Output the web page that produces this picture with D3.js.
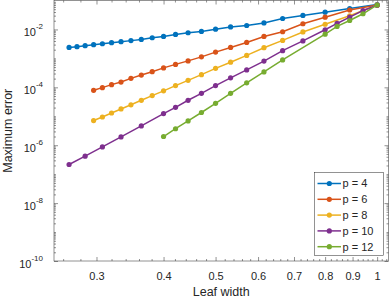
<!DOCTYPE html>
<html>
<head>
<meta charset="utf-8">
<script src="https://cdn.jsdelivr.net/npm/d3@7"></script>
<style>
  body { margin: 0; background: #fff; }
  text { font-family: "Liberation Sans", Arial, sans-serif; fill: #262626; }
</style>
</head>
<body>
<div id="chart"></div>
<script>
// leaf widths (x) shared by all series, null where a series has no point
const leafWidth = [0.2667, 0.2759, 0.2857, 0.2963, 0.3077, 0.32, 0.3333, 0.3478, 0.3636, 0.381,
    0.4, 0.4211, 0.4444, 0.4706, 0.5, 0.5333, 0.5714, 0.6154, 0.6667, 0.7273,
    0.8, 0.8421, 0.8889, 0.9412, 1];

const errP4 = [2.39e-3, 2.53e-3, 2.74e-3, 2.97e-3, 3.21e-3, 3.48e-3, 3.77e-3, 4.11e-3, 4.52e-3, 5.17e-3,
    5.74e-3, 6.73e-3, 7.69e-3, 8.53e-3, 1.02e-2, 1.22e-2, 1.37e-2, 1.68e-2, 2.39e-2, 3.04e-2,
    3.95e-2, null, 5.30e-2, null, 7.28e-2];
const errP6 = [null, null, null, 7.88e-5, 9.77e-5, 1.24e-4, 1.52e-4, 2.04e-4, 2.65e-4, 3.47e-4,
    4.70e-4, 6.21e-4, 8.20e-4, 1.13e-3, 1.65e-3, 2.39e-3, 3.56e-3, 5.74e-3, 8.33e-3, 1.57e-2,
    2.65e-2, null, 4.70e-2, null, 7.0e-2];
const errP8 = [null, null, null, 7.11e-6, 9.46e-6, 1.30e-5, 1.79e-5, 2.49e-5, 3.57e-5, 5.18e-5,
    7.57e-5, 1.15e-4, 1.74e-4, 2.74e-4, 4.52e-4, 7.39e-4, 1.27e-3, 2.34e-3, 4.18e-3, 8.2e-3,
    1.51e-2, null, 2.96e-2, null, 6.89e-2];
const errP10 = [2.16e-7, null, 4.18e-7, null, 8.74e-7, null, 1.93e-6, null, 4.63e-6, null,
    1.24e-5, 2.04e-5, 3.57e-5, 6.21e-5, 1.15e-4, 2.13e-4, 4.01e-4, 8.07e-4, 1.85e-3, 4.01e-3,
    9.77e-3, 1.61e-2, 2.65e-2, 4.52e-2, 6.89e-2];
const errP12 = [null, null, null, null, null, null, null, null, null, null,
    2.0e-6, 3.71e-6, 6.89e-6, 1.35e-5, 2.81e-5, 6.21e-5, 1.43e-4, 3.42e-4, 8.87e-4, null,
    6.89e-3, 1.27e-2, 2.04e-2, 3.48e-2, 7.0e-2];

const seriesNames = ["p = 4", "p = 6", "p = 8", "p = 10", "p = 12"];
const seriesValues = [errP4, errP6, errP8, errP10, errP12];
const colors = ["#0072BD", "#D95319", "#EDB120", "#7E2F8E", "#77AC30"];

const xTicks = [0.3, 0.4, 0.5, 0.6, 0.7, 0.8, 0.9, 1];
const yTicks = [1e-10, 1e-8, 1e-6, 1e-4, 1e-2];

// 尺寸
const W = 390, H = 299;
const margin = {top: 0.5, right: 1.5, bottom: 38, left: 54};
const width = W - margin.left - margin.right;
const height = H - margin.top - margin.bottom;

const svg = d3.select("#chart").append("svg")
    .attr("width", W).attr("height", H);
const g = svg.append("g")
    .attr("transform", `translate(${margin.left},${margin.top})`);

const x = d3.scaleLog().domain([0.25, 1.05]).range([0, width]);
const y = d3.scaleLog().domain([1e-10, 1e-1]).range([height, 0]);

// minor ticks
const xMinor = d3.range(26, 105, 2).map(v => v / 100).filter(v => !xTicks.some(t => Math.abs(t - v) < 1e-9));
const yMinor = [];
for (let e = -10; e < -1; e++) {
    for (let k = 1; k <= 9; k++) {
        const v = k * Math.pow(10, e);
        if (!yTicks.some(t => Math.abs(Math.log10(t / v)) < 1e-6)) yMinor.push(v);
    }
}

function styleAxis(sel) {
    sel.select(".domain").remove();
    sel.selectAll(".tick line").attr("stroke", "#262626").attr("stroke-width", 0.5);
}

// bottom / top
g.append("g").attr("transform", `translate(0,${height})`)
    .call(d3.axisBottom(x).tickValues(xMinor).tickFormat("").tickSizeInner(-2).tickSizeOuter(0))
    .call(styleAxis);
const xAxis = g.append("g").attr("transform", `translate(0,${height})`)
    .call(d3.axisBottom(x).tickValues(xTicks).tickFormat(d3.format("")).tickSizeInner(-4).tickSizeOuter(0).tickPadding(11))
    .call(styleAxis);
xAxis.selectAll(".tick text").attr("font-size", "11px").attr("fill", "#262626");
g.append("g")
    .call(d3.axisTop(x).tickValues(xMinor).tickFormat("").tickSizeInner(-2).tickSizeOuter(0))
    .call(styleAxis);
g.append("g")
    .call(d3.axisTop(x).tickValues(xTicks).tickFormat("").tickSizeInner(-4).tickSizeOuter(0))
    .call(styleAxis);

// left / right
g.append("g")
    .call(d3.axisLeft(y).tickValues(yMinor).tickFormat("").tickSizeInner(-2).tickSizeOuter(0))
    .call(styleAxis);
const yAxis = g.append("g")
    .call(d3.axisLeft(y).tickValues(yTicks).tickSizeInner(-4).tickSizeOuter(0).tickPadding(11))
    .call(styleAxis);
yAxis.selectAll(".tick text").each(function(d) {
    const t = d3.select(this);
    t.text(null).attr("font-size", "11px").attr("dy", "0.55em").attr("fill", "#262626");
    t.append("tspan").text("10");
    t.append("tspan").attr("font-size", "8px").attr("dy", -7).text(Math.round(Math.log10(d)));
});
g.append("g").attr("transform", `translate(${width},0)`)
    .call(d3.axisRight(y).tickValues(yMinor).tickFormat("").tickSizeInner(-2).tickSizeOuter(0))
    .call(styleAxis);
g.append("g").attr("transform", `translate(${width},0)`)
    .call(d3.axisRight(y).tickValues(yTicks).tickFormat("").tickSizeInner(-4).tickSizeOuter(0))
    .call(styleAxis);

// box
g.append("rect").attr("width", width).attr("height", height)
    .attr("fill", "none").attr("stroke", "#262626").attr("stroke-width", 0.5);

// lines
const line = d3.line().x(d => x(d[0])).y(d => y(d[1]));
seriesValues.forEach((vals, i) => {
    const pts = leafWidth.map((w, j) => [w, vals[j]]).filter(d => d[1] != null);
    g.append("path").datum(pts)
        .attr("fill", "none").attr("stroke", colors[i]).attr("stroke-width", 1.5)
        .attr("d", line);
    g.selectAll(null).data(pts).enter().append("circle")
        .attr("cx", d => x(d[0])).attr("cy", d => y(d[1]))
        .attr("r", 2.6).attr("fill", colors[i]);
});

// axis labels
svg.append("text").attr("x", margin.left + width / 2).attr("y", 296)
    .attr("text-anchor", "middle").attr("font-size", "12.5px").text("Leaf width");
svg.append("text").attr("transform", `translate(11.5,${margin.top + height / 2}) rotate(-90)`)
    .attr("text-anchor", "middle").attr("font-size", "12.5px").text("Maximum error");

// legend
const legend = svg.append("g").attr("transform", "translate(314.5,172.5)");
legend.append("rect").attr("width", 69).attr("height", 83)
    .attr("fill", "#fff").attr("stroke", "#262626").attr("stroke-width", 0.5);
seriesNames.forEach((name, i) => {
    const ly = 11 + i * 15.8;
    legend.append("line").attr("x1", 3).attr("x2", 26.5).attr("y1", ly).attr("y2", ly)
        .attr("stroke", colors[i]).attr("stroke-width", 1.5);
    legend.append("circle").attr("cx", 14.8).attr("cy", ly).attr("r", 2.6).attr("fill", colors[i]);
    legend.append("text").attr("x", 28).attr("y", ly).attr("dy", "0.36em")
        .attr("font-size", "11px").text(name);
});
</script>
</body>
</html>
